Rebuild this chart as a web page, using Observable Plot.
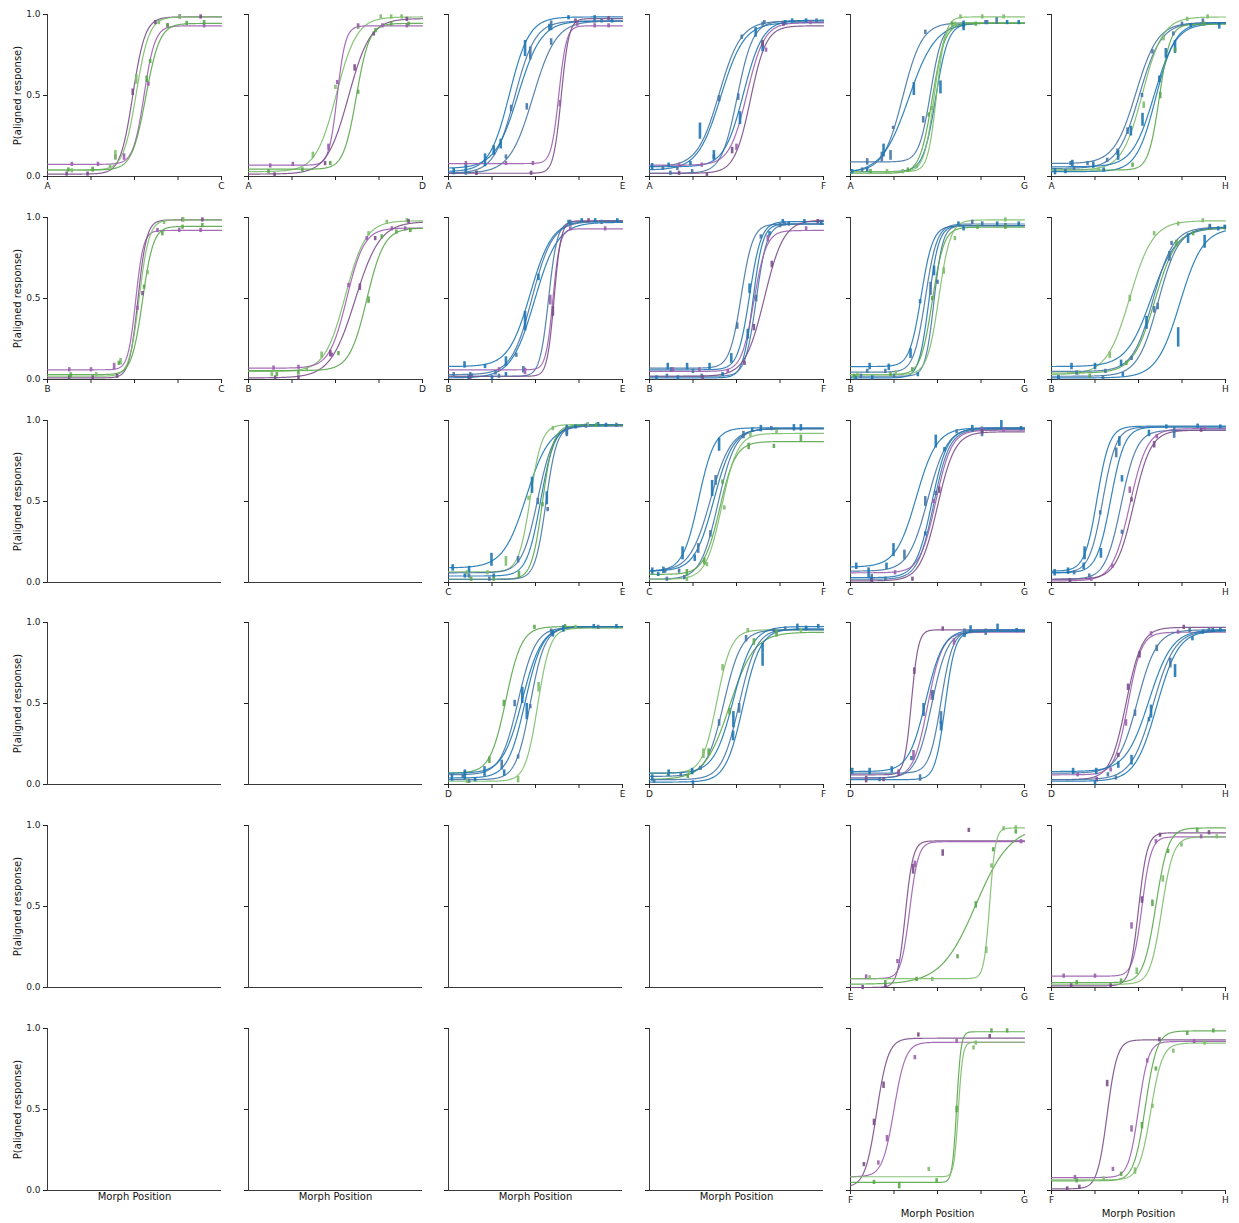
<!DOCTYPE html>
<html><head><meta charset="utf-8">
<script src="https://cdn.jsdelivr.net/npm/d3@7"></script>
<script src="https://cdn.jsdelivr.net/npm/@observablehq/plot@0.6"></script>
<style>
body{margin:0;background:#fff;}
#wrap{position:relative;width:1239px;height:1223px;overflow:hidden;}
#wrap svg{position:absolute;}
</style></head><body><div id="wrap"></div>
<script>
const rowLetters = ["A","B","C","D","E","F"];
const colLetters = ["C","D","E","F","G","H"];
const xTicks = [0, 0.25, 0.5, 0.75, 1];
const yTicks = [0, 0.5, 1];
const palette = {P:"#9b5fae", DP:"#7b4e89", G:"#5aa64b", LG:"#7dbd6b", B:"#1f77b4", SB:"#4477a6"};

// [panel, colour, lower, upper, midpoint, slope, [x, y, errHalf, ...]]
const rowA = [
["AC","DP",.015,.985,.49,28,[.11,.015,0, .23,.015,0, .39,.12,0, .49,.52,.02, .62,.95,0, .76,.985,0, .88,.985,0]],
["AC","LG",.04,.985,.51,27,[.14,.035,0, .26,.045,0, .36,.06,0, .39,.13,.03, .51,.60,.03, .64,.95,0, .76,.985,0]],
["AC","P",.075,.93,.555,32,[.14,.075,0, .29,.075,0, .44,.12,.02, .58,.57,0, .69,.93,0, .90,.93,0]],
["AC","G",.04,.945,.565,25,[.12,.04,0, .26,.04,0, .57,.60,.02, .59,.71,0, .69,.93,0, .80,.945,0, .90,.95,0]],
["AD","LG",.03,.985,.505,17,[.37,.13,.02, .50,.55,0, .63,.92,0, .76,.985,0, .82,.985,0, .88,.985,0]],
["AD","P",.07,.93,.51,42,[.125,.065,0, .255,.075,0, .46,.18,.02, .51,.58,0, .63,.93,0, .77,.93,0, .91,.93,0]],
["AD","DP",.015,.975,.575,16,[.15,.01,0, .44,.08,0, .61,.67,.02, .72,.88,0, .91,.97,0]],
["AD","G",.045,.945,.62,27,[.115,.03,0, .31,.04,0, .47,.08,0, .63,.52,0, .73,.90,0, .82,.94,0, .92,.94,0]],
["AE","B",.03,.985,.35,17.5,[.03,.03,.02, .10,.03,0, .21,.10,.04, .30,.20,.03, .44,.79,.05, .69,.98,0, .84,.98,0]],
["AE","SB",.02,.96,.38,17,[.10,.02,0, .36,.42,.02, .47,.76,.04, .59,.93,.03, .88,.96,0]],
["AE","B",.05,.96,.40,15,[.10,.06,.02, .26,.16,.03, .58,.92,.02, .94,.96,0]],
["AE","SB",.02,.96,.485,15,[.16,.02,0, .33,.12,0, .45,.43,.02, .59,.83,.02, .84,.96,0]],
["AE","P",.08,.93,.634,46,[.10,.08,0, .33,.08,0, .485,.08,0, .64,.45,.02, .74,.94,0, .84,.93,0, .92,.93,0]],
["AE","DP",.02,.975,.648,45,[.16,.02,0, .475,.02,0, .73,.96,0, .92,.975,0]],
["AF","SB",.06,.96,.40,16,[.077,.05,0, .16,.05,0, .40,.48,.02, .53,.86,0, .66,.95,0, .96,.96,0]],
["AF","B",.04,.95,.41,15,[.015,.06,.02, .11,.07,0, .235,.08,0, .29,.28,.05, .61,.89,.03, .78,.95,0, .90,.96,0]],
["AF","SB",.02,.96,.504,22,[.12,.02,0, .245,.03,0, .37,.12,0, .51,.49,.02, .65,.94,0]],
["AF","B",.06,.965,.54,18,[.37,.13,.03, .52,.36,.04, .65,.80,.03, .82,.96,0]],
["AF","P",.07,.95,.56,20,[.17,.07,0, .30,.07,0, .50,.18,.02, .67,.78,0, .925,.95,0]],
["AF","DP",.02,.93,.58,22,[.17,.02,0, .33,.01,0, .475,.16,.02, .65,.82,.02, .77,.94,0]],
["AG","SB",.03,.95,.30,18,[.067,.04,0, .18,.12,.03, .245,.30,.01, .43,.89,0, .785,.95,0]],
["AG","B",.02,.95,.335,13,[.096,.04,0, .19,.16,.04, .364,.54,.04, .65,.93,.03, .967,.95,0]],
["AG","SB",.09,.945,.46,30,[.096,.09,.02, .23,.13,.03, .418,.35,.02, .776,.95,0, .84,.96,.02]],
["AG","B",.03,.945,.49,28,[.01,.03,0, .517,.55,.04, .65,.93,0, .90,.95,0]],
["AG","G",.02,.945,.47,28,[.115,.03,0, .33,.04,0, .45,.38,0, .584,.94,0, .72,.94,0]],
["AG","LG",.03,.985,.495,40,[.21,.03,0, .38,.06,0, .632,.985,0, .757,.985,0, .88,.985,0]],
["AG","LG",.03,.95,.48,35,[.30,.03,0, .47,.42,0, .60,.94,0]],
["AH","SB",.08,.95,.485,16,[.11,.08,0, .207,.08,0, .32,.10,0, .437,.28,.02, .58,.77,0, .75,.94,0, .87,.96,0]],
["AH","SB",.05,.95,.504,16,[.13,.05,0, .38,.15,.02, .52,.50,0, .70,.88,0]],
["AH","LG",.04,.985,.523,17,[.27,.04,0, .53,.44,.02, .644,.85,0, .78,.97,0, .897,.985,0]],
["AH","B",.06,.945,.59,16,[.02,.03,.02, .12,.08,.02, .24,.07,.02, .383,.13,.03, .456,.28,.03, .523,.35,.04, .657,.76,.03, .71,.80,.04, .964,.93,.02]],
["AH","B",.03,.95,.60,18,[.08,.03,0, .30,.04,0, .62,.60,.02, .80,.93,0]],
["AH","G",.04,.94,.62,32,[.466,.07,0, .625,.50,.02, .71,.78,0, .877,.94,0]]
];
const rowB = [
["BC","P",.06,.92,.507,45,[.125,.06,0, .25,.06,0, .383,.08,.02, .517,.44,0, .632,.92,0, .757,.92,0, .88,.92,0]],
["BC","DP",.01,.985,.52,40,[.125,.01,0, .26,.01,0, .40,.02,0, .546,.53,0, .776,.985,0, .89,.985,0]],
["BC","LG",.02,.985,.527,35,[.134,.03,0, .28,.03,0, .42,.11,.02, .575,.66,0, .67,.97,0, .78,.985,0]],
["BC","G",.03,.945,.546,32,[.134,.02,0, .41,.10,0, .555,.57,0, .66,.90,0, .776,.94,0, .89,.95,0]],
["BD","LG",.05,.98,.556,17,[.134,.03,0, .335,.06,0, .42,.15,.02, .69,.90,0, .795,.97,0, .91,.98,0]],
["BD","P",.07,.935,.565,20,[.144,.07,0, .287,.075,0, .48,.15,0, .575,.58,0, .68,.87,0, .824,.93,0, .90,.93,0]],
["BD","DP",.01,.975,.613,14,[.153,.01,0, .287,.01,0, .47,.16,.02, .64,.57,.02, .728,.87,0, .92,.975,0]],
["BD","G",.055,.935,.68,20,[.163,.03,0, .287,.04,0, .517,.16,0, .69,.49,.02, .766,.88,0, .85,.91,0, .93,.92,0]],
["BE","B",.08,.98,.47,16,[.092,.09,.02, .21,.08,0, .33,.11,.03, .44,.36,.06, .517,.63,.02, .69,.97,0, .843,.98,0]],
["BE","SB",.03,.975,.48,17,[.03,.03,0, .125,.03,0, .27,.04,0, .39,.15,0, .70,.97,0, .88,.97,0]],
["BE","B",.01,.97,.495,15,[.115,.01,0, .25,.01,0, .33,.03,0, .766,.98,0, .97,.98,0]],
["BE","SB",.02,.975,.575,40,[.134,.02,0, .29,.02,0, .43,.06,.02, .70,.96,0]],
["BE","P",.06,.93,.60,50,[.29,.06,0, .44,.05,.02, .585,.49,.03, .70,.93,0, .90,.93,0]],
["BE","DP",.02,.98,.607,50,[.125,.01,0, .60,.42,.03, .805,.98,0]],
["BF","SB",.07,.96,.527,30,[.125,.06,0, .25,.05,0, .504,.33,.02, .64,.88,0, .776,.96,0]],
["BF","B",.06,.975,.575,30,[.105,.08,.02, .216,.08,.02, .345,.08,.02, .47,.13,.03, .575,.56,.03, .766,.975,0, .89,.975,0, .987,.965,0]],
["BF","B",.01,.96,.594,35,[.04,.01,0, .163,.01,0, .42,.03,0, .565,.28,.03, .69,.90,0, .80,.96,0]],
["BF","SB",.02,.96,.613,32,[.10,.02,0, .30,.02,0, .613,.50,.02, .75,.95,0]],
["BF","P",.05,.92,.60,28,[.134,.06,0, .287,.06,0, .45,.05,0, .68,.87,.02, .90,.93,0]],
["BF","DP",.02,.985,.66,18,[.306,.01,0, .546,.10,0, .60,.32,.02, .703,.71,.02, .967,.975,0]],
["BG","B",.08,.95,.406,30,[.11,.08,.02, .22,.075,.02, .345,.16,.03, .40,.48,0, .62,.96,0, .843,.96,0, .967,.96,0]],
["BG","SB",.045,.96,.43,30,[.096,.05,0, .20,.05,0, .46,.56,.04, .70,.97,0, .89,.95,0]],
["BG","B",.01,.95,.45,35,[.03,.01,0, .125,.01,0, .387,.03,0, .48,.67,.03, .65,.93,0]],
["BG","SB",.02,.95,.48,40,[.06,.02,0, .25,.02,0, .50,.60,0, .757,.96,0]],
["BG","G",.03,.94,.47,30,[.02,.02,0, .23,.03,0, .355,.06,0, .47,.50,0, .73,.94,0, .89,.94,0]],
["BG","LG",.03,.985,.508,30,[.04,.03,0, .26,.04,0, .536,.67,.02, .60,.87,0, .89,.985,0]],
["BH","LG",.03,.98,.45,15,[.153,.04,0, .335,.15,.02, .45,.50,.02, .59,.90,0, .728,.96,0, .87,.98,0]],
["BH","B",.08,.935,.575,14,[.115,.08,.02, .25,.08,.02, .40,.10,.02, .546,.35,.04, .785,.87,.03, .958,.93,0]],
["BH","SB",.05,.94,.584,17,[.144,.04,0, .31,.05,0, .46,.13,0, .59,.43,.02, .69,.84,0, .91,.94,0]],
["BH","G",.04,.935,.594,16,[.22,.02,0, .43,.10,0, .718,.84,.02, .814,.90,0, .996,.935,0]],
["BH","SB",.02,.94,.613,17,[.04,.01,0, .296,.01,0, .61,.45,.02, .678,.76,.03, .91,.945,0]],
["BH","B",.01,.935,.738,15,[.04,.01,0, .41,.03,0, .728,.26,.06, .88,.85,.04, .996,.94,0]]
];
const rowC = [
["CE","B",.09,.97,.447,15,[.024,.09,.02, .118,.08,.02, .247,.14,.04, .48,.60,.05, .68,.94,.03, .86,.975,0]],
["CE","LG",.065,.975,.47,30,[.106,.06,0, .224,.06,0, .33,.13,.03, .46,.52,0, .60,.95,0, .80,.975,0]],
["CE","SB",.06,.97,.513,22,[.118,.04,0, .40,.14,.02, .513,.50,.02, .68,.93,.03, .965,.97,0]],
["CE","B",.04,.975,.53,25,[.094,.04,0, .26,.04,0, .565,.52,.04, .73,.96,0, .905,.97,0]],
["CE","G",.02,.97,.54,32,[.13,.02,0, .26,.02,0, .405,.05,.02, .54,.48,0, .85,.97,0]],
["CE","SB",.02,.965,.56,32,[.235,.02,0, .57,.45,0, .79,.965,0]],
["CF","B",.07,.955,.282,22,[.016,.07,.02, .08,.075,.02, .19,.18,.04, .40,.85,.04, .64,.95,.02, .83,.955,.02, .87,.955,.02]],
["CF","SB",.07,.95,.35,17,[.09,.07,0, .17,.07,0, .28,.21,.03, .38,.63,.03, .54,.92,0, .70,.95,0]],
["CF","B",.07,.95,.37,18,[.05,.05,0, .26,.15,.02, .36,.58,.05, .59,.94,0]],
["CF","SB",.02,.95,.393,20,[.10,.02,0, .20,.03,0, .35,.30,.02, .54,.90,0]],
["CF","G",.05,.87,.404,22,[.215,.06,.02, .315,.13,.02, .42,.62,0, .57,.84,.02, .715,.84,0, .87,.89,.02]],
["CF","LG",.02,.92,.415,22,[.215,.02,0, .33,.11,0, .43,.46,0, .58,.91,0, .73,.93,0]],
["CG","B",.095,.955,.378,17,[.033,.10,.02, .104,.06,.03, .207,.10,.02, .247,.20,.04, .49,.87,.04, .70,.95,.02, .867,.97,.03]],
["CG","SB",.07,.955,.444,18,[.122,.03,.02, .31,.17,.03, .43,.50,.03, .61,.93,0, .756,.93,.03]],
["CG","B",.03,.95,.467,22,[.12,.02,0, .43,.30,0, .54,.82,0, .98,.95,0]],
["CG","SB",.02,.945,.478,22,[.20,.02,0, .49,.55,0, .70,.94,0]],
["CG","P",.06,.94,.49,22,[.256,.06,0, .478,.50,0, .756,.94,0, .88,.94,0]],
["CG","DP",.01,.93,.50,20,[.122,.01,0, .356,.02,0, .51,.57,.02, .756,.93,0]],
["CH","B",.07,.965,.262,28,[.018,.06,.02, .095,.07,.02, .19,.18,.04, .39,.87,.03, .66,.96,0, .84,.965,0, .97,.96,0]],
["CH","SB",.06,.96,.295,26,[.13,.06,0, .28,.43,0, .372,.80,.03, .705,.94,.02]],
["CH","B",.06,.96,.34,25,[.185,.10,.02, .284,.18,.03, .405,.64,.02, .56,.92,.02]],
["CH","SB",.02,.94,.40,22,[.106,.01,0, .217,.04,0, .405,.31,0, .705,.91,.02]],
["CH","P",.01,.95,.45,20,[.228,.02,0, .35,.10,0, .45,.57,.02, .605,.90,0, .88,.95,0]],
["CH","DP",.02,.94,.472,20,[.106,.01,0, .46,.51,0, .59,.85,.02, .86,.94,0]]
];
const rowD = [
["DE","G",.07,.975,.33,22,[.094,.07,0, .235,.15,.02, .318,.50,.02, .494,.97,0, .67,.975,0]],
["DE","SB",.06,.97,.40,20,[.082,.05,0, .306,.12,.03, .38,.50,.02, .59,.94,.02, .86,.97,0]],
["DE","B",.07,.975,.424,18,[.02,.04,.02, .094,.06,.03, .207,.08,.03, .424,.55,.05, .66,.96,.02, .835,.975,0, .965,.975,0]],
["DE","B",.04,.975,.44,20,[.153,.03,0, .32,.07,.02, .45,.45,.05, .60,.93,.02]],
["DE","SB",.03,.97,.47,24,[.118,.02,0, .40,.17,0, .47,.48,0]],
["DE","LG",.02,.965,.513,28,[.106,.02,0, .40,.03,.02, .518,.60,.03, .73,.97,0]],
["DF","LG",.07,.955,.387,24,[.105,.06,0, .227,.07,0, .31,.19,.03, .42,.72,.02, .565,.95,0, .87,.95,0]],
["DF","SB",.05,.955,.427,20,[.18,.06,0, .40,.38,.02, .555,.90,.02, .715,.95,0, .90,.96,0]],
["DF","G",.03,.94,.46,14,[.22,.05,0, .34,.20,.02, .46,.45,.02, .60,.88,.02, .73,.93,.02]],
["DF","B",.07,.975,.482,18,[.016,.04,.02, .11,.07,.02, .245,.08,.02, .482,.40,.05, .65,.77,.04, .85,.97,.02, .97,.975,0]],
["DF","SB",.03,.96,.515,20,[.027,.02,0, .293,.10,0, .515,.47,.03, .78,.96,0]],
["DF","B",.015,.96,.538,20,[.25,.01,0, .48,.30,.03, .65,.84,.03, .90,.965,0]],
["DG","DP",.06,.955,.35,50,[.09,.03,.02, .19,.03,0, .277,.07,.02, .367,.70,.02, .53,.96,0]],
["DG","P",.04,.94,.444,24,[.277,.07,0, .362,.18,.03, .467,.55,.03, .595,.88,.02]],
["DG","B",.08,.955,.433,20,[.01,.08,.02, .11,.08,.02, .237,.09,.02, .42,.46,.04, .69,.96,.02, .845,.97,.02]],
["DG","SB",.04,.95,.467,22,[.167,.03,0, .35,.16,0, .473,.55,.03, .655,.94,.02]],
["DG","SB",.07,.95,.52,30,[.40,.04,.02, .52,.41,.04, .777,.94,.02]],
["DG","B",.03,.945,.544,35,[.52,.36,.03, .655,.92,0, .955,.95,0]],
["DH","DP",.03,.97,.428,22,[.26,.03,0, .384,.18,0, .44,.60,.02, .506,.80,.02, .76,.97,0]],
["DH","P",.06,.94,.44,26,[.15,.06,0, .34,.09,0, .428,.38,.02, .572,.93,0, .727,.94,0]],
["DH","SB",.07,.955,.494,18,[.324,.06,0, .48,.44,.02, .605,.84,.02, .794,.95,0]],
["DH","B",.08,.955,.56,15,[.124,.08,.02, .257,.08,.02, .384,.12,.02, .46,.15,.03, .572,.45,.04, .71,.70,.04, .87,.94,0, .97,.955,0]],
["DH","SB",.03,.95,.583,16,[.37,.04,0, .683,.75,.03, .905,.95,0]],
["DH","B",.02,.95,.605,16,[.25,.01,0, .56,.40,0, .81,.90,0, .927,.95,0]]
];
const rowE = [
["EG","DP",0,.905,.315,45,[.07,0,0, .20,.01,0, .36,.73,.03, .53,.83,.02, .68,.97,0]],
["EG","P",.055,.90,.34,40,[.09,.065,0, .27,.16,0, .37,.76,.02, .98,.90,0]],
["EG","G",.02,1.0,.72,10,[.20,.03,0, .38,.05,0, .615,.19,0, .72,.51,.02, .82,.85,0, .95,.96,0]],
["EG","LG",.055,.985,.80,60,[.11,.06,0, .47,.05,0, .78,.23,.02, .81,.75,0, .88,.98,0, .95,.985,0]],
["EH","P",.07,.93,.52,38,[.07,.07,0, .25,.07,0, .46,.38,.02, .60,.90,0, .86,.93,0]],
["EH","DP",.01,.955,.50,40,[.113,.01,0, .34,.01,0, .52,.54,.02, .624,.94,0, .905,.955,0]],
["EH","G",.03,.985,.60,28,[.145,.03,0, .40,.04,0, .58,.52,.02, .67,.84,0, .837,.97,0]],
["EH","LG",.02,.93,.633,30,[.49,.10,.02, .64,.67,.02, .747,.88,0, .95,.93,0]]
];
const rowF = [
["FG","DP",.02,.94,.15,30,[.077,.16,0, .135,.42,.02, .19,.65,.02, .39,.96,0, .80,.95,0]],
["FG","P",.085,.915,.25,30,[.16,.17,0, .21,.32,.02, .37,.82,0, .61,.92,0]],
["FG","G",.05,.98,.61,80,[.135,.05,0, .28,.03,.02, .495,.06,0, .61,.50,.02, .81,.985,0, .90,.985,0]],
["FG","LG",.085,.915,.62,80,[.45,.13,0, .707,.88,0, .72,.91,0]],
["FH","DP",.01,.93,.32,35,[.09,.01,0, .16,.02,0, .32,.66,.02, .62,.93,0]],
["FH","P",.08,.92,.50,35,[.135,.08,0, .353,.13,0, .46,.38,.02, .55,.80,0, .82,.92,0]],
["FH","G",.06,.985,.54,30,[.145,.06,0, .40,.10,0, .52,.40,.02, .60,.75,0, .78,.97,0, .93,.985,0]],
["FH","LG",.065,.91,.57,30,[.30,.07,0, .48,.12,.02, .58,.52,0, .70,.86,0, .88,.91,0]]
];

const allCurves = [...rowA, ...rowB, ...rowC, ...rowD, ...rowE, ...rowF];
const wrap = document.getElementById("wrap");
const PW = 174, PH = 162, ML = 47, MR = 8, MT = 6, MB = 34;
const sample = d3.range(0, 401).map(i => i / 400);
const logistic = (x, d) => d[2] + (d[3] - d[2]) / (1 + Math.exp(-d[5] * (x - d[4])));

rowLetters.forEach((rl, r) => colLetters.forEach((cl, c) => {
  const key = rl + cl;
  const cs = allCurves.filter(d => d[0] === key);
  const has = cs.length > 0;
  const lines = cs.flatMap((d, i) => sample.map(x => ({x, y: logistic(x, d), id: i, color: palette[d[1]]})));
  const pts = cs.flatMap((d, i) => {
    const out = [], a = d[6];
    for (let j = 0; j < a.length; j += 3) out.push({x: a[j], y: a[j + 1], e: a[j + 2] || 0.013, color: palette[d[1]]});
    return out;
  });
  const marks = [
    Plot.ruleX([0], {y1: 0, y2: 1, stroke: "#222", strokeWidth: 0.9}),
    Plot.ruleY([0], {x1: 0, x2: 1, stroke: "#222", strokeWidth: 0.9}),
    Plot.line(lines, {x: "x", y: "y", z: "id", stroke: "color", strokeWidth: 1.2, strokeOpacity: 0.9}),
    Plot.ruleX(pts, {x: "x", y1: d => d.y - d.e, y2: d => d.y + d.e, stroke: "color", strokeWidth: 2.6, strokeOpacity: 0.9})
  ];
  if (c === 0) marks.push(Plot.text(["P(aligned response)"], {text: d => d, frameAnchor: "left", dx: -30, rotate: -90, textAnchor: "middle", lineAnchor: "middle", fontSize: 10, fill: "#111"}));
  if (r === 5) marks.push(Plot.text(["Morph Position"], {text: d => d, frameAnchor: "bottom", dy: has ? 23 : 6.5, textAnchor: "middle", lineAnchor: "middle", fontSize: 10, fill: "#111"}));
  const svg = Plot.plot({
    width: ML + PW + MR, height: MT + PH + MB,
    marginLeft: ML, marginRight: MR, marginTop: MT, marginBottom: MB,
    style: {background: "transparent", overflow: "visible", fontFamily: "DejaVu Sans, sans-serif", fontSize: "9px", color: "#222"},
    color: {type: "identity"},
    x: {domain: [0, 1], axis: has ? "bottom" : null, ticks: xTicks, tickFormat: d => d === 0 ? rl : d === 1 ? cl : "", tickSize: 4, tickPadding: 2, label: null},
    y: {domain: [0, 1], ticks: yTicks, tickFormat: c === 0 ? d3.format(".1f") : () => "", tickSize: 4, tickPadding: 3, label: null},
    marks
  });
  svg.style.position = "absolute";
  svg.style.left = (46.7 + 200.8 * c - ML) + "px";
  svg.style.top = (14 + 202.8 * r - MT) + "px";
  wrap.appendChild(svg);
}));
</script>
</body></html>
